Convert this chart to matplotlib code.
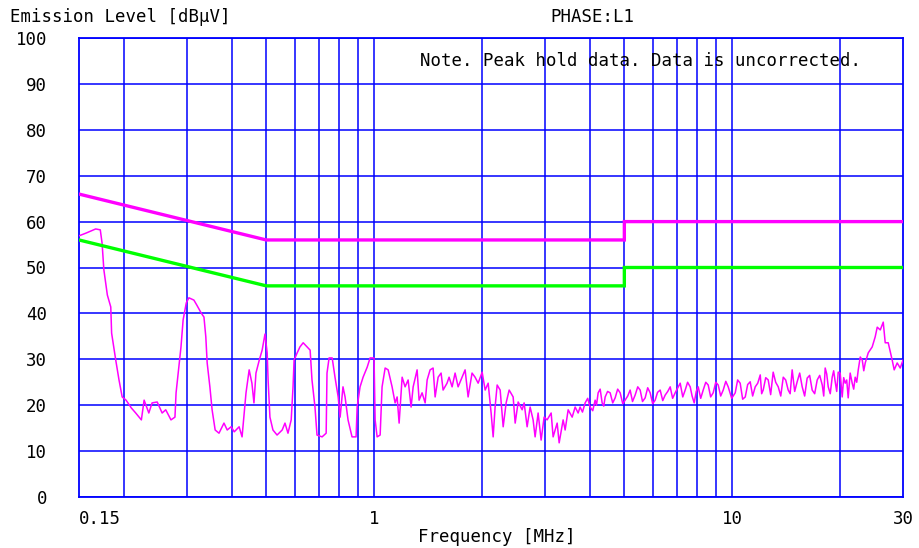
import matplotlib
matplotlib.use("Agg")
import matplotlib.pyplot as plt
from matplotlib.ticker import FixedLocator, NullFormatter

# ---- data ----
limit_freq = [0.15, 0.5, 0.5, 5.0, 5.0, 30.0]
qp_limit = [66, 56, 56, 56, 60, 60]
av_limit = [56, 46, 46, 46, 50, 50]

trace_freq = [
    0.150, 0.157, 0.167, 0.172, 0.174, 0.176, 0.180, 0.184, 0.185, 0.190,
    0.194, 0.198, 0.203, 0.210, 0.216, 0.224, 0.228, 0.235, 0.240, 0.248,
    0.256, 0.262, 0.271, 0.278, 0.280, 0.285, 0.289, 0.293, 0.299, 0.304,
    0.314, 0.320, 0.329, 0.335, 0.339, 0.342, 0.348, 0.353, 0.360, 0.369,
    0.381, 0.389, 0.399, 0.407, 0.420, 0.428, 0.434, 0.439, 0.448, 0.456,
    0.462, 0.468, 0.478, 0.487, 0.496, 0.503, 0.506, 0.512, 0.522, 0.536,
    0.554, 0.564, 0.575, 0.587, 0.594, 0.598, 0.610, 0.621, 0.634, 0.650,
    0.663, 0.671, 0.684, 0.693, 0.716, 0.735, 0.739, 0.749, 0.764, 0.778,
    0.794, 0.804, 0.819, 0.830, 0.846, 0.868, 0.891, 0.897, 0.914, 0.932,
    0.957, 0.975, 1.000, 1.007, 1.020, 1.040, 1.053, 1.074, 1.095, 1.123,
    1.145, 1.160, 1.175, 1.198, 1.221, 1.245, 1.269, 1.286, 1.319, 1.336,
    1.362, 1.389, 1.407, 1.434, 1.462, 1.481, 1.510, 1.539, 1.559, 1.599,
    1.620, 1.652, 1.684, 1.717, 1.761, 1.796, 1.831, 1.878, 1.915, 1.953,
    2.004, 2.043, 2.083, 2.123, 2.151, 2.178, 2.207, 2.250, 2.294, 2.338,
    2.384, 2.446, 2.478, 2.526, 2.592, 2.625, 2.676, 2.728, 2.781, 2.817,
    2.872, 2.928, 2.985, 3.043, 3.123, 3.163, 3.246, 3.288, 3.373, 3.417,
    3.484, 3.575, 3.644, 3.715,
    3.762, 3.82, 3.886, 3.95, 4.012, 4.08, 4.144, 4.18, 4.225, 4.28,
    4.335, 4.38, 4.420, 4.49, 4.564, 4.64, 4.713, 4.79, 4.867, 4.95,
    5.025, 5.11, 5.190, 5.27, 5.359, 5.45, 5.535, 5.62, 5.716, 5.81,
    5.903, 6.00, 6.095, 6.19, 6.295, 6.40, 6.501, 6.61, 6.714, 6.82,
    6.933, 7.05, 7.160, 7.28, 7.394, 7.51, 7.636, 7.73, 7.835, 7.94,
    8.039, 8.17, 8.302, 8.44, 8.573, 8.71, 8.853, 9.00, 9.143, 9.29,
    9.442, 9.60, 9.750, 9.97, 10.20, 10.36, 10.53, 10.70, 10.88, 11.05,
    11.23, 11.41, 11.60, 11.79, 11.98, 12.09, 12.21, 12.41, 12.61, 12.81,
    13.02, 13.23, 13.45, 13.67, 13.89, 14.11, 14.34, 14.52, 14.71, 14.95,
    15.19, 15.44, 15.69, 15.94, 16.20, 16.46, 16.73, 17.00, 17.28, 17.56,
    17.85, 18.02, 18.19, 18.37, 18.55, 18.79, 19.03, 19.21, 19.40, 19.59,
    19.78, 20.03, 20.29, 20.49, 20.69, 20.89, 21.09, 21.36, 21.64, 21.85,
    22.06, 22.28, 22.50, 22.79, 23.09, 23.31, 23.53,
    23.99, 24.61, 25.09, 25.42, 25.92, 26.42, 26.76, 27.28, 27.99, 28.35,
    28.90, 29.47, 30.00,
]
trace_level = [
    56.9, 57.5, 58.4, 58.2, 55.3, 49.5, 44.0, 41.4, 35.7, 29.8,
    25.5, 21.8, 21.1, 19.4, 18.3, 16.8, 21.1, 18.3, 20.5, 20.7,
    18.3, 19.0, 16.8, 17.4, 22.7, 28.3, 32.7, 38.6, 42.3, 43.4,
    42.9, 41.8, 40.1, 39.2, 34.9, 29.2, 24.0, 19.0, 14.6, 13.9,
    16.1, 14.6, 15.3, 14.2, 15.3, 13.1, 18.3, 22.7, 27.7, 24.8,
    20.5, 27.0, 29.8, 32.0, 35.5, 31.4, 25.5, 17.4, 14.6, 13.5,
    14.6, 16.1, 13.9, 16.8, 24.0, 29.8, 31.4, 32.7, 33.6, 32.7,
    32.0, 25.5, 19.6, 13.5, 13.1, 13.9, 27.0, 30.3, 30.3, 26.1,
    21.8, 17.4, 24.0, 21.8, 16.8, 13.1, 13.1, 19.6, 24.0, 26.1,
    28.3, 30.3, 30.3, 16.8, 13.1, 13.5, 24.0, 28.1, 27.7, 24.0,
    20.5, 21.8, 16.1, 26.1, 24.0, 25.5, 19.6, 24.0, 27.7, 21.1,
    22.7, 20.5, 25.5, 27.7, 28.1, 21.8, 26.1, 27.0, 23.3, 24.8,
    26.1, 24.0, 27.0, 24.0, 26.1, 27.7, 21.8, 27.0, 26.1, 24.8,
    27.2, 23.3, 24.8, 18.3, 13.1, 19.6, 24.4, 23.3, 15.3, 20.5,
    23.3, 21.8, 16.1, 20.7, 19.0, 20.5, 15.3, 19.6, 16.8, 13.1,
    18.3, 12.4, 17.4, 16.8, 18.3, 13.1, 16.1, 11.8, 16.8, 14.6,
    19.0, 17.4, 19.6, 18.3,
    19.6, 18.5, 20.5, 21.5, 19.6, 18.8, 21.1, 20.0, 22.7, 23.5,
    20.5, 19.8, 21.8, 23.0, 22.7, 20.5, 21.6, 23.5, 22.7, 20.3,
    21.1, 22.0, 23.3, 20.8, 22.2, 24.0, 23.3, 20.8, 21.6, 23.8,
    22.7, 20.3, 21.1, 22.8, 23.3, 21.0, 22.2, 23.0, 24.0, 21.5,
    22.7, 23.8, 24.8, 21.8, 23.3, 25.0, 24.0, 22.0, 20.5, 23.0,
    24.0, 21.5, 23.3, 25.0, 24.4, 21.8, 22.7, 25.0, 24.4, 22.0,
    23.3, 25.2, 24.0, 21.5, 22.7, 25.5, 24.8, 21.3, 21.8, 24.5,
    25.1, 22.0, 24.0, 24.8, 26.6, 22.5, 23.3, 26.0, 25.5, 22.3,
    27.2, 25.0, 24.0, 22.0, 26.1, 25.5, 23.3, 22.5, 27.7, 23.0,
    25.1, 27.0, 24.0, 22.0, 25.9, 26.5, 23.3, 22.5, 25.5, 26.5,
    24.4, 22.0, 28.1, 26.8, 24.0, 22.5, 26.1, 27.5, 25.1, 23.0,
    27.2, 27.0, 21.8, 26.0, 24.8, 25.5, 21.6, 27.0, 24.8, 23.5,
    26.1, 25.0, 27.7, 30.5, 29.8, 27.5, 29.2,
    31.4, 32.7, 34.9, 37.0, 36.4, 38.1, 33.6, 33.6, 29.8, 27.7,
    29.2, 28.1, 29.8,
]

y_ticks = list(range(0, 101, 10))
x_major = [0.15, 1, 10, 30]
x_major_labels = ["0.15", "1", "10", "30"]
x_grid = [0.2, 0.3, 0.4, 0.5, 0.6, 0.7, 0.8, 0.9, 1, 2, 3, 4, 5, 6, 7, 8, 9, 10, 20]

# ---- figure ----
W, H = 919, 548
fig = plt.figure(figsize=(W / 100, H / 100), dpi=100)
ax = fig.add_axes([79 / W, 51 / H, 824 / W, 459 / H])

FONT = "DejaVu Sans Mono"
BLUE = "#0000FF"

ax.set_xscale("log")
ax.set_xlim(0.15, 30)
ax.set_ylim(0, 100)

# grid
for f in x_grid:
    ax.axvline(f, color=BLUE, lw=1.1, zorder=1)
for v in y_ticks:
    ax.axhline(v, color=BLUE, lw=1.1, zorder=1)
for s in ax.spines.values():
    s.set_color(BLUE)
    s.set_linewidth(1.3)

ax.plot(trace_freq, trace_level, color="#FF00FF", lw=1.1, zorder=3)
ax.plot(limit_freq, qp_limit, color="#FF00FF", lw=2.4, zorder=4,
        solid_joinstyle="miter")
ax.plot(limit_freq, av_limit, color="#00FF00", lw=2.4, zorder=4,
        solid_joinstyle="miter")

ax.xaxis.set_major_locator(FixedLocator(x_major))
ax.xaxis.set_minor_locator(FixedLocator([]))
ax.xaxis.set_minor_formatter(NullFormatter())
ax.set_xticklabels(x_major_labels, fontfamily=FONT, fontsize=12.5)
ax.set_yticks(y_ticks)
ax.set_yticklabels([str(v) for v in y_ticks], fontfamily=FONT, fontsize=12.5)
ax.tick_params(axis="both", which="both", length=0)
ax.tick_params(axis="x", pad=9)
ax.tick_params(axis="y", pad=23)
xl = ax.get_xticklabels()
xl[0].set_horizontalalignment("left")

fig.text(10 / W, 1 - 17 / H, "Emission Level [dB\u03bcV]", fontfamily=FONT,
         fontsize=12.5, ha="left", va="center")
fig.text(592 / W, 1 - 17 / H, "PHASE:L1", fontfamily=FONT,
         fontsize=12.5, ha="center", va="center")
fig.text(420 / W, 1 - 61 / H, "Note. Peak hold data. Data is uncorrected.",
         fontfamily=FONT, fontsize=12.5, ha="left", va="center", zorder=5)
fig.text(497 / W, 1 - 537 / H, "Frequency [MHz]", fontfamily=FONT,
         fontsize=12.5, ha="center", va="center")

fig.savefig("out.png", dpi=100)
